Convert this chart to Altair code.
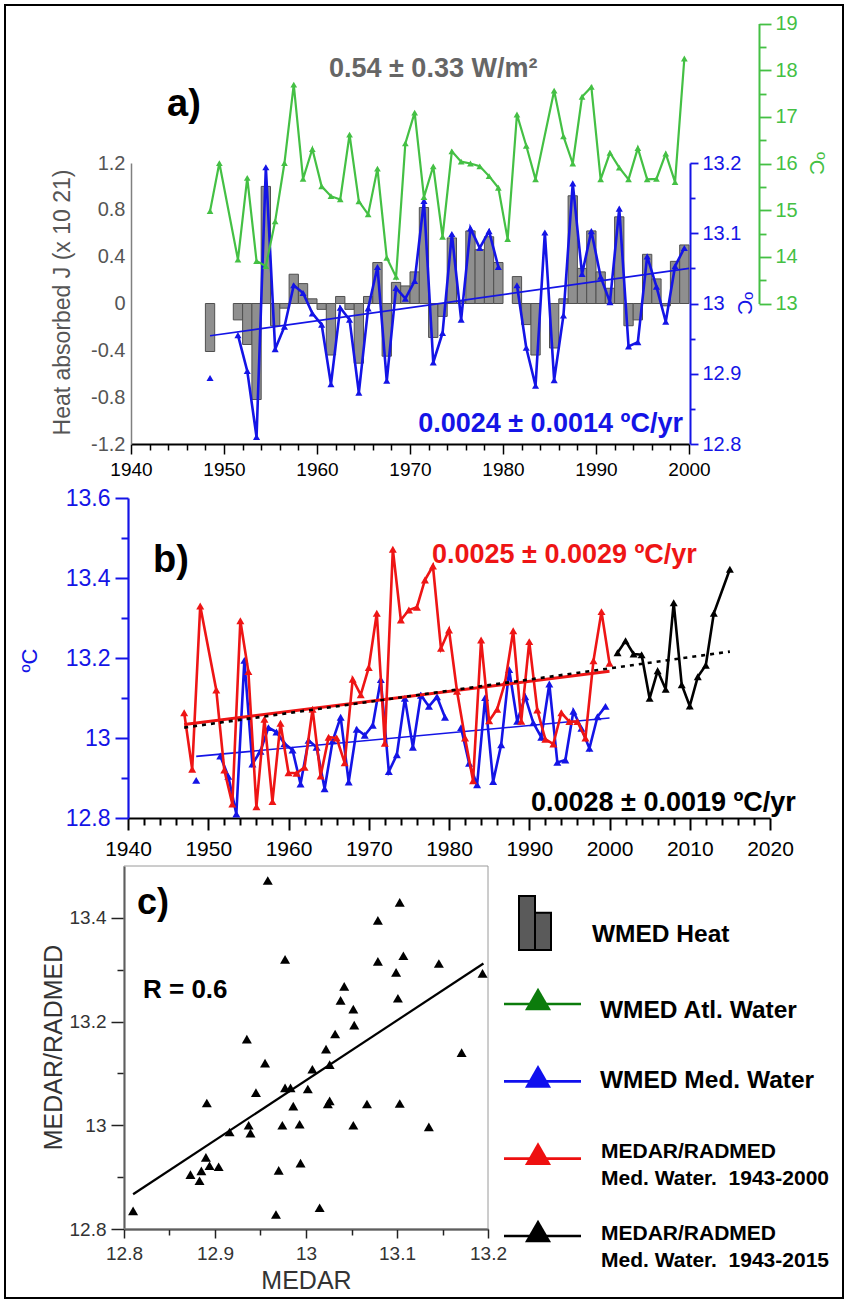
import altair as alt
import pandas as pd

W, H = 847, 1303
FONT = "Liberation Sans, Arial, Helvetica, sans-serif"
BLUE = "#1414e6"
RED = "#ee1515"
GREEN = "#44c044"
DKGREEN = "#0c7c0c"
GRAY_TXT = "#666666"

# ---------------- data ----------------
heat_years = [1948, 1951, 1952, 1953, 1954, 1955, 1956, 1957, 1958, 1959, 1960, 1961, 1962, 1963,
              1964, 1965, 1966, 1967, 1968, 1969, 1970, 1971, 1972, 1973, 1974, 1975, 1976, 1977,
              1978, 1979, 1981, 1982, 1983, 1985, 1986, 1987, 1988, 1989, 1990, 1991, 1992, 1993,
              1994, 1995, 1996, 1997, 1998, 1999]
heat_vals = [-0.41, -0.14, -0.35, -0.82, 1.00, -0.19, -0.04, 0.25, 0.17, 0.04, -0.05, -0.44, 0.06, -0.05,
             -0.51, 0.06, 0.35, -0.45, 0.18, 0.15, 0.27, 0.82, -0.29, -0.11, 0.56, 0.02, 0.62, 0.46,
             0.57, 0.35, 0.23, -0.18, -0.44, -0.38, 0.04, 0.92, 0.30, 0.62, 0.27, 0.13, 0.74, -0.19,
             -0.14, 0.42, 0.21, -0.02, 0.36, 0.50]

blue_years = [1948] + list(range(1951, 1980)) + list(range(1981, 2000))
blue_vals = [12.894,
             12.955, 12.904, 12.810, 13.194, 12.935, 12.967, 13.026, 13.015, 12.986, 12.970,
             12.885, 12.994, 12.977, 12.873, 12.993, 13.052, 12.890, 13.022, 13.007, 13.032,
             13.146, 12.916, 12.958, 13.099, 12.977, 13.107, 13.079, 13.103, 13.052,
             13.026, 12.937, 12.883, 13.101, 12.891, 12.983, 13.171, 13.042, 13.103, 13.038,
             13.002, 13.135, 12.939, 12.945, 13.067, 13.024, 12.974, 13.053, 13.079]

green_years = [1948, 1949] + list(range(1951, 1984)) + list(range(1985, 2000))
green_vals = [14.98, 16.01,
              13.94, 15.69, 13.91, 13.80, 14.76, 16.01, 17.69, 15.67, 16.31, 15.51,
              15.30, 15.23, 16.62, 15.19, 14.91, 15.89, 13.98, 13.57, 16.43, 17.09,
              15.28, 15.94, 14.43, 16.26, 16.04, 16.00, 15.94, 15.73, 15.48, 14.38,
              17.05, 16.38, 15.66,
              17.56, 16.58, 16.00, 17.43, 17.64, 15.66, 16.23, 15.91, 15.66, 16.33,
              15.66, 15.67, 16.21, 15.60, 18.25]

red_years = [1947, 1948, 1949] + list(range(1951, 2001))
red_vals = [13.063, 12.922, 13.330,
            13.120, 12.920, 12.835, 13.293, 13.166, 12.828, 13.047, 12.841, 13.037, 12.913,
            12.912, 12.927, 13.072, 12.905, 13.002, 13.000, 12.938, 13.147, 13.108, 13.176,
            13.312, 12.987, 13.472, 13.295, 13.320, 13.327, 13.395, 13.430, 13.224, 13.270,
            13.117, 13.000, 12.893, 13.245, 13.043, 13.072, 13.140, 13.268, 13.042, 13.241,
            13.070, 12.997, 12.985, 13.063, 13.041, 13.041, 13.000, 13.193, 13.316, 13.187]

black_years = list(range(2001, 2014)) + [2015]
black_vals = [13.213, 13.243, 13.210, 13.208, 13.099, 13.168, 13.122, 13.338, 13.133,
              13.080, 13.153, 13.182, 13.312, 13.422]

blue_trend_t = [1948.5, 2000.0]
blue_trend_v = [12.954, 13.050]
red_trend_t = [1947, 2000]
red_trend_v = [13.034, 13.167]
black_trend_t = [1947, 2015]
black_trend_v = [13.026, 13.216]
fit_x = [12.81, 13.195]
fit_y = [12.867, 13.312]

legend_rows = [1, 2, 3, 4]
legend_colors = [DKGREEN, "#1010ee", "#ee1010", "#000000"]
legend_bar_heights = [1.0, 0.69]

# ---------------- frames ----------------
heat_df = pd.DataFrame({"year": heat_years, "heat": heat_vals})
blue_df = pd.DataFrame({"year": blue_years, "temp": blue_vals})
blue_df["seg"] = (blue_df["year"].diff().fillna(1) > 1).cumsum()
green_df = pd.DataFrame({"year": green_years, "temp": green_vals})
red_df = pd.DataFrame({"year": red_years, "temp": red_vals})
black_df = pd.DataFrame({"year": black_years, "temp": black_vals})
btrend_df = pd.DataFrame({"t": blue_trend_t, "v": blue_trend_v})
rtrend_df = pd.DataFrame({"t": red_trend_t, "v": red_trend_v})
ktrend_df = pd.DataFrame({"t": black_trend_t, "v": black_trend_v})
fit_df = pd.DataFrame({"x": fit_x, "y": fit_y})
scatter_df = pd.merge(blue_df[["year", "temp"]].rename(columns={"temp": "medar"}),
                      red_df.rename(columns={"temp": "radmed"}), on="year")
leg_df = pd.DataFrame({"row": legend_rows, "col": legend_colors})
legbar_df = pd.DataFrame({"i": [0, 1], "h": legend_bar_heights})

# ---------------- scales (pixel ranges for each panel) ----------------
xa = alt.Scale(domain=[1940, 2000], range=[131, 689], nice=False, zero=False)
heat_y = alt.Scale(domain=[-1.2, 1.2], range=[444, 163], nice=False, zero=False)
blue_ya = alt.Scale(domain=[12.8, 13.2], range=[444, 163], nice=False, zero=False)
green_y = alt.Scale(domain=[13, 19], range=[303.5, 23.5], nice=False, zero=False)
xb = alt.Scale(domain=[1940, 2020], range=[128, 770], nice=False, zero=False)
yb = alt.Scale(domain=[12.8, 13.6], range=[818, 498], nice=False, zero=False)
xc = alt.Scale(domain=[12.8, 13.2], range=[124, 488], nice=False, zero=False)
yc = alt.Scale(domain=[12.8, 13.5], range=[1229, 866], nice=False, zero=False)

MAJ10 = "datum.value % 10 == 0"
MAJ01 = "abs(datum.value*10 - round(datum.value*10)) < 0.001"
MAJ02 = "abs(datum.value*5 - round(datum.value*5)) < 0.001"
MAJ1 = "abs(datum.value - round(datum.value)) < 0.001"


def cond(test, a, b):
    return {"condition": {"test": test, "value": a}, "value": b}


def frange(a, b, s):
    n = int(round((b - a) / s))
    return [round(a + i * s, 4) for i in range(n + 1)]


common = dict(grid=False, labelFont=FONT, titleFont=FONT, labelOverlap=False,
              labelFlush=False, titleFontWeight="normal")

ax_xa = alt.Axis(orient="bottom", offset=444 - H, values=list(range(1940, 2001, 2)),
                 tickSize=cond(MAJ10, 10, 6), tickWidth=1.5, domainWidth=1.8,
                 domainColor="black", tickColor="black", labelColor="black",
                 labelFontSize=19, labelPadding=6,
                 labelExpr=f"{MAJ10} ? format(datum.value, 'd') : ''", title=None, **common)
ax_heat = alt.Axis(orient="left", offset=-131, values=frange(-1.2, 1.2, 0.4),
                   tickSize=0, domainColor="#808080", domainWidth=1.5,
                   labelColor="#555555", labelFontSize=20, labelPadding=6,
                   labelExpr="replace(format(datum.value, '.1~f'), '\u2212', '-')",
                   title="Heat absorbed J (x 10 21)", titleFontSize=23, titleColor="#555555",
                   titleX=62 - 131, titleY=302, titleBaseline="middle", titleAlign="center",
                   **common)
ax_bluea = alt.Axis(orient="right", offset=690 - W, values=frange(12.8, 13.2, 0.05),
                    tickSize=cond(MAJ01, 8, 5), tickWidth=1.8, domainWidth=2,
                    domainColor=BLUE, tickColor=BLUE, labelColor=BLUE, labelFontSize=20,
                    labelPadding=4,
                    labelExpr=f"{MAJ01} ? format(datum.value, '.1~f') : ''",
                    title="ºC", titleColor=BLUE, titleFontSize=21,
                    titleX=743 - 690, titleY=303, titleBaseline="middle", titleAlign="center",
                    **common)
ax_green = alt.Axis(orient="right", offset=759 - W, values=frange(13, 19, 0.5),
                    tickSize=cond(MAJ1, 12, 7), tickWidth=1.8, domainWidth=2,
                    domainColor=GREEN, tickColor=GREEN, labelColor=GREEN, labelFontSize=20,
                    labelPadding=4,
                    labelExpr=f"{MAJ1} ? format(datum.value, 'd') : ''",
                    title="ºC", titleColor=GREEN, titleFontSize=21,
                    titleX=815 - 759, titleY=163, titleBaseline="middle", titleAlign="center",
                    **common)
ax_xb = alt.Axis(orient="bottom", offset=818 - H, values=list(range(1940, 2021, 2)),
                 tickSize=cond(MAJ10, 12, 7), tickWidth=2, domainWidth=2.2,
                 domainColor="black", tickColor="black", labelColor="black",
                 labelFontSize=21, labelPadding=8,
                 labelExpr=f"{MAJ10} ? format(datum.value, 'd') : ''", title=None, **common)
ax_yb = alt.Axis(orient="left", offset=-128, values=frange(12.8, 13.6, 0.1),
                 tickSize=cond(MAJ02, 13, 7), tickWidth=2, domainWidth=2.2,
                 domainColor=BLUE, tickColor=BLUE, labelColor=BLUE, labelFontSize=23,
                 labelPadding=5,
                 labelExpr=f"{MAJ02} ? format(datum.value, '.1~f') : ''",
                 title="ºC", titleColor=BLUE, titleFontSize=22,
                 titleX=29 - 128, titleY=660, titleBaseline="middle", titleAlign="center",
                 **common)
ax_xc = alt.Axis(orient="bottom", offset=1229 - H, values=frange(12.8, 13.2, 0.05),
                 tickSize=cond(MAJ01, 9, 6), tickWidth=1.5, domainWidth=1.8,
                 domainColor="#222222", tickColor="#222222", labelColor="#333333",
                 labelFontSize=19, labelPadding=6,
                 labelExpr=f"{MAJ01} ? format(datum.value, '.1~f') : ''",
                 title="MEDAR", titleColor="#333333", titleFontSize=25,
                 titleX=306, titleY=51, titleBaseline="middle", titleAlign="center",
                 **common)
ax_yc = alt.Axis(orient="left", offset=-124, values=frange(12.8, 13.4, 0.1),
                 tickSize=cond(MAJ02, 13, 7), tickWidth=1.5, domainWidth=1.8,
                 domainColor="#222222", tickColor="#222222", labelColor="#333333",
                 labelFontSize=19, labelPadding=5,
                 labelExpr=f"{MAJ02} ? format(datum.value, '.1~f') : ''",
                 title="MEDAR/RADMED", titleColor="#333333", titleFontSize=25,
                 titleX=53 - 124, titleY=1047, titleBaseline="middle", titleAlign="center",
                 **common)


def tri(size, color):
    return alt.OverlayMarkDef(shape="triangle-up", size=size, filled=True, color=color,
                              opacity=1, strokeWidth=0)


layers = []

# ---------------- panel a ----------------
layers.append(
    alt.Chart(heat_df).transform_calculate(x0="datum.year", x1="datum.year + 1")
    .mark_bar(fill="#8f8f8f", stroke="#505050", strokeWidth=1)
    .encode(x=alt.X("x0:Q", scale=xa, axis=ax_xa), x2="x1:Q",
            y=alt.Y("heat:Q", scale=heat_y, axis=ax_heat), y2=alt.Y2Datum(0))
)
layers.append(
    alt.Chart(btrend_df).mark_line(color=BLUE, strokeWidth=1.6)
    .encode(x=alt.X("t:Q", scale=xa, axis=None), y=alt.Y("v:Q", scale=blue_ya, axis=None))
)
layers.append(
    alt.Chart(blue_df).transform_calculate(t="datum.year + 0.5")
    .mark_line(color=BLUE, strokeWidth=2.6, point=tri(50, BLUE))
    .encode(x=alt.X("t:Q", scale=xa, axis=None),
            y=alt.Y("temp:Q", scale=blue_ya, axis=ax_bluea), detail="seg:N")
)
layers.append(
    alt.Chart(green_df).transform_calculate(t="datum.year + 0.5")
    .mark_line(color=GREEN, strokeWidth=2.2, point=tri(45, GREEN))
    .encode(x=alt.X("t:Q", scale=xa, axis=None),
            y=alt.Y("temp:Q", scale=green_y, axis=ax_green))
)

# ---------------- panel b ----------------
layers.append(
    alt.Chart(btrend_df).mark_line(color=BLUE, strokeWidth=1.6)
    .encode(x=alt.X("t:Q", scale=xb, axis=None), y=alt.Y("v:Q", scale=yb, axis=None))
)
layers.append(
    alt.Chart(blue_df).transform_calculate(t="datum.year + 0.5")
    .mark_line(color=BLUE, strokeWidth=2.6, point=tri(64, BLUE))
    .encode(x=alt.X("t:Q", scale=xb, axis=None), y=alt.Y("temp:Q", scale=yb, axis=None),
            detail="seg:N")
)
layers.append(
    alt.Chart(red_df).mark_line(color=RED, strokeWidth=2.6, point=tri(64, RED))
    .encode(x=alt.X("year:Q", scale=xb, axis=ax_xb), y=alt.Y("temp:Q", scale=yb, axis=ax_yb))
)
layers.append(
    alt.Chart(black_df).mark_line(color="black", strokeWidth=2.6, point=tri(64, "black"))
    .encode(x=alt.X("year:Q", scale=xb, axis=None), y=alt.Y("temp:Q", scale=yb, axis=None))
)
layers.append(
    alt.Chart(rtrend_df).mark_line(color=RED, strokeWidth=3)
    .encode(x=alt.X("t:Q", scale=xb, axis=None), y=alt.Y("v:Q", scale=yb, axis=None))
)
layers.append(
    alt.Chart(ktrend_df).mark_line(color="black", strokeWidth=2.6, strokeDash=[4, 5])
    .encode(x=alt.X("t:Q", scale=xb, axis=None), y=alt.Y("v:Q", scale=yb, axis=None))
)

# ---------------- panel c ----------------
layers.append(
    alt.Chart(alt.Data(values=[{}])).mark_rect(fillOpacity=0, stroke="#9a9a9a", strokeWidth=1)
    .encode(x=alt.XDatum(12.8, type="quantitative", scale=xc, axis=None), x2=alt.X2Datum(13.2),
            y=alt.YDatum(12.8, type="quantitative", scale=yc, axis=None), y2=alt.Y2Datum(13.5))
)
layers.append(
    alt.Chart(fit_df).mark_line(color="black", strokeWidth=2.2)
    .encode(x=alt.X("x:Q", scale=xc, axis=None), y=alt.Y("y:Q", scale=yc, axis=None))
)
layers.append(
    alt.Chart(scatter_df).mark_point(shape="triangle-up", size=100, filled=True, color="black",
                                     opacity=1)
    .encode(x=alt.X("medar:Q", scale=xc, axis=ax_xc), y=alt.Y("radmed:Q", scale=yc, axis=ax_yc))
)

# ---------------- legend ----------------
leg_y = alt.Scale(domain=[1, 4], range=[1004, 1236], nice=False, zero=False)
layers.append(
    alt.Chart(leg_df).mark_rule(strokeWidth=2.6)
    .encode(x=alt.value(504), x2=alt.value(581),
            y=alt.Y("row:Q", scale=leg_y, axis=None), color=alt.Color("col:N", scale=None))
)
layers.append(
    alt.Chart(leg_df).mark_point(shape="triangle-up", size=680, filled=True, opacity=1, yOffset=-5)
    .encode(x=alt.value(538), y=alt.Y("row:Q", scale=leg_y, axis=None),
            color=alt.Color("col:N", scale=None))
)
layers.append(
    alt.Chart(legbar_df).transform_calculate(i1="datum.i + 1")
    .mark_bar(fill="#5a5a5a", stroke="black", strokeWidth=2)
    .encode(x=alt.X("i:Q", scale=alt.Scale(domain=[0, 2], range=[519, 551], nice=False, zero=False), axis=None),
            x2="i1:Q",
            y=alt.Y("h:Q", scale=alt.Scale(domain=[0, 1], range=[950, 896], nice=False, zero=False), axis=None),
            y2=alt.Y2Datum(0))
)

# ---------------- texts ----------------
def txt(text, x, y, size, color="black", align="left", bold=True, lh=None):
    kw = dict(text=text, font=FONT, fontSize=size, color=color, align=align,
              baseline="alphabetic", fontWeight="bold" if bold else "normal")
    if lh is not None:
        kw["lineHeight"] = lh
    return alt.Chart(alt.Data(values=[{}])).mark_text(**kw).encode(
        x=alt.value(x), y=alt.value(y))


layers += [
    txt("a)", 167, 116, 38),
    txt("b)", 153, 572, 38),
    txt("c)", 137, 914, 36),
    txt("0.54 ± 0.33 W/m²", 329, 77, 27, GRAY_TXT),
    txt("0.0024 ± 0.0014 ºC/yr", 683, 432, 27, BLUE, align="right"),
    txt("0.0025 ± 0.0029 ºC/yr", 432, 563, 27, RED),
    txt("0.0028 ± 0.0019 ºC/yr", 531, 811, 27, "black"),
    txt("R = 0.6", 143, 998, 26),
    txt("WMED Heat", 592, 941.5, 24.5),
    txt("WMED Atl. Water", 600, 1018.3, 24.5),
    txt("WMED Med. Water", 600, 1088.3, 24.5),
    txt(["MEDAR/RADMED", "Med. Water.\u00a0 1943-2000"], 601, 1158.3, 21, lh=26.7),
    txt(["MEDAR/RADMED", "Med. Water.\u00a0 1943-2015"], 601, 1240, 21, lh=26.7),
]

# outer frame
layers.append(
    alt.Chart(alt.Data(values=[{}])).mark_rect(fillOpacity=0, stroke="black", strokeWidth=2)
    .encode(x=alt.value(5), x2=alt.value(843), y=alt.value(5), y2=alt.value(1298))
)

chart = (
    alt.layer(*layers)
    .resolve_scale(x="independent", y="independent")
    .properties(width=W, height=H, padding=0, autosize=alt.AutoSizeParams(type="none"),
                background="white")
    .configure_view(strokeWidth=0)
)

chart.save("out.html", embed_options={"renderer": "svg", "actions": False})
